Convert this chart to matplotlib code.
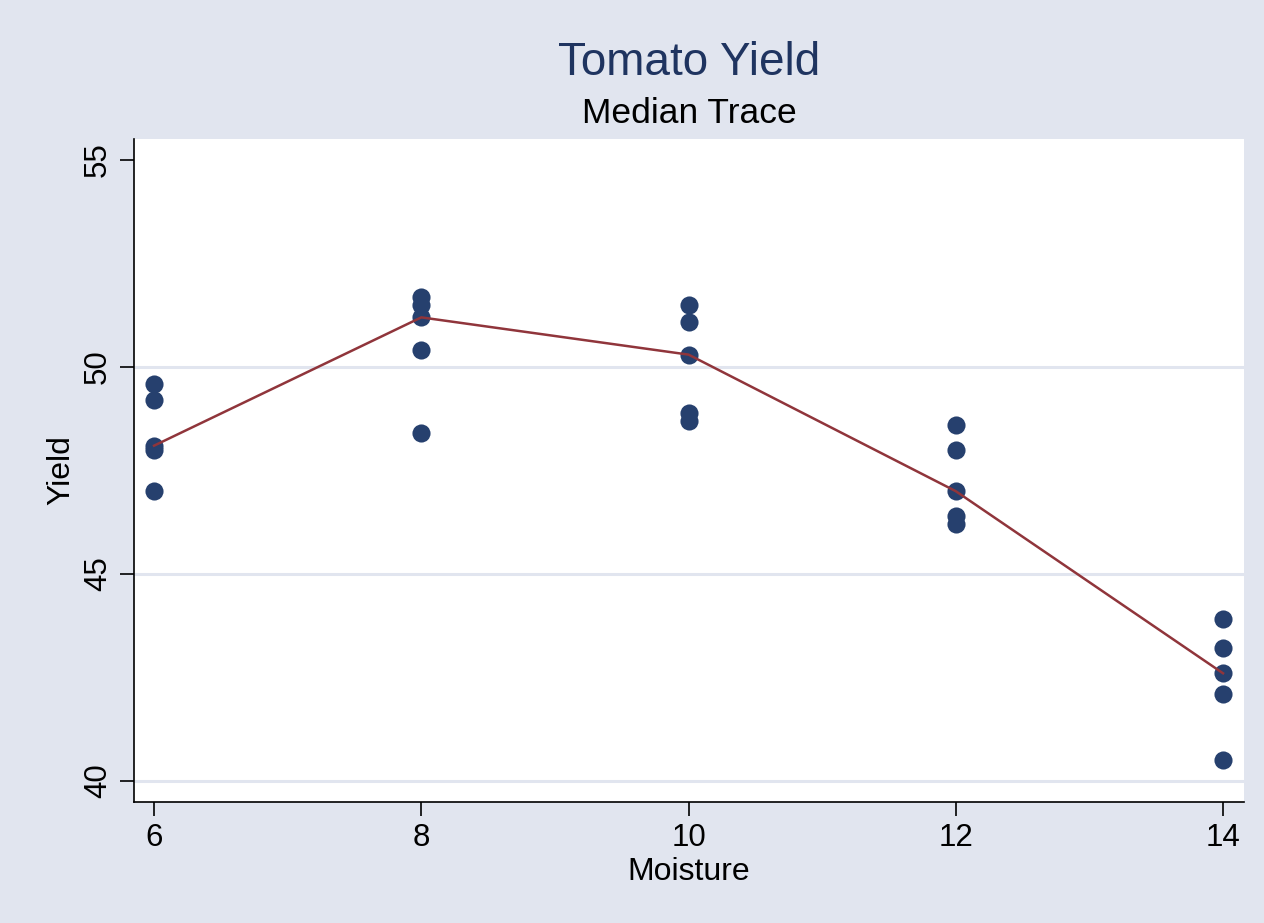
import matplotlib
matplotlib.use("Agg")
import matplotlib.pyplot as plt

plt.rcParams['font.family'] = ['Liberation Sans', 'DejaVu Sans']

# data
moisture = [6, 6, 6, 6, 6,
            8, 8, 8, 8, 8,
            10, 10, 10, 10, 10,
            12, 12, 12, 12, 12,
            14, 14, 14, 14, 14]
yield_vals = [49.6, 49.2, 48.1, 48.0, 47.0,
              51.7, 51.5, 51.2, 50.4, 48.4,
              51.5, 51.1, 50.3, 48.9, 48.7,
              48.6, 48.0, 47.0, 46.4, 46.2,
              43.9, 43.2, 42.6, 42.1, 40.5]
median_x = [6, 8, 10, 12, 14]
median_y = [48.1, 51.2, 50.3, 47.0, 42.6]

bg = '#e1e5ef'
fig = plt.figure(figsize=(12.64, 9.23), dpi=100, facecolor=bg)
ax = fig.add_axes([134 / 1264, 121 / 923, 1110 / 1264, 663 / 923])
ax.set_facecolor('white')

ax.set_xlim(5.85, 14.157)
ax.set_ylim(39.49, 55.51)

for y in [40, 45, 50]:
    ax.axhline(y, color=bg, lw=2.2, zorder=0)

ax.scatter(moisture, yield_vals, s=170, color='#26406e', zorder=3, linewidths=0)
ax.plot(median_x, median_y, color='#90353b', lw=1.8, zorder=4)

ax.spines['top'].set_visible(False)
ax.spines['right'].set_visible(False)
for s in ['left', 'bottom']:
    ax.spines[s].set_linewidth(1.2)

ax.set_xticks(median_x)
ax.set_yticks([40, 45, 50, 55])
ax.tick_params(axis='both', labelsize=22.5, length=10, width=1.2, pad=5)
plt.setp(ax.get_yticklabels(), rotation=90, va='center')

ax.set_xlabel('Moisture', fontsize=23, labelpad=3)
ax.set_ylabel('Yield', fontsize=23, labelpad=5)

fig.text(689 / 1264, 1 - 75 / 923, 'Tomato Yield', ha='center', va='baseline',
         fontsize=33, color='#1f3460')
fig.text(689 / 1264, 1 - 123 / 923, 'Median Trace', ha='center', va='baseline',
         fontsize=25.5, color='black')

fig.savefig('out.png', dpi=100, facecolor=bg)
